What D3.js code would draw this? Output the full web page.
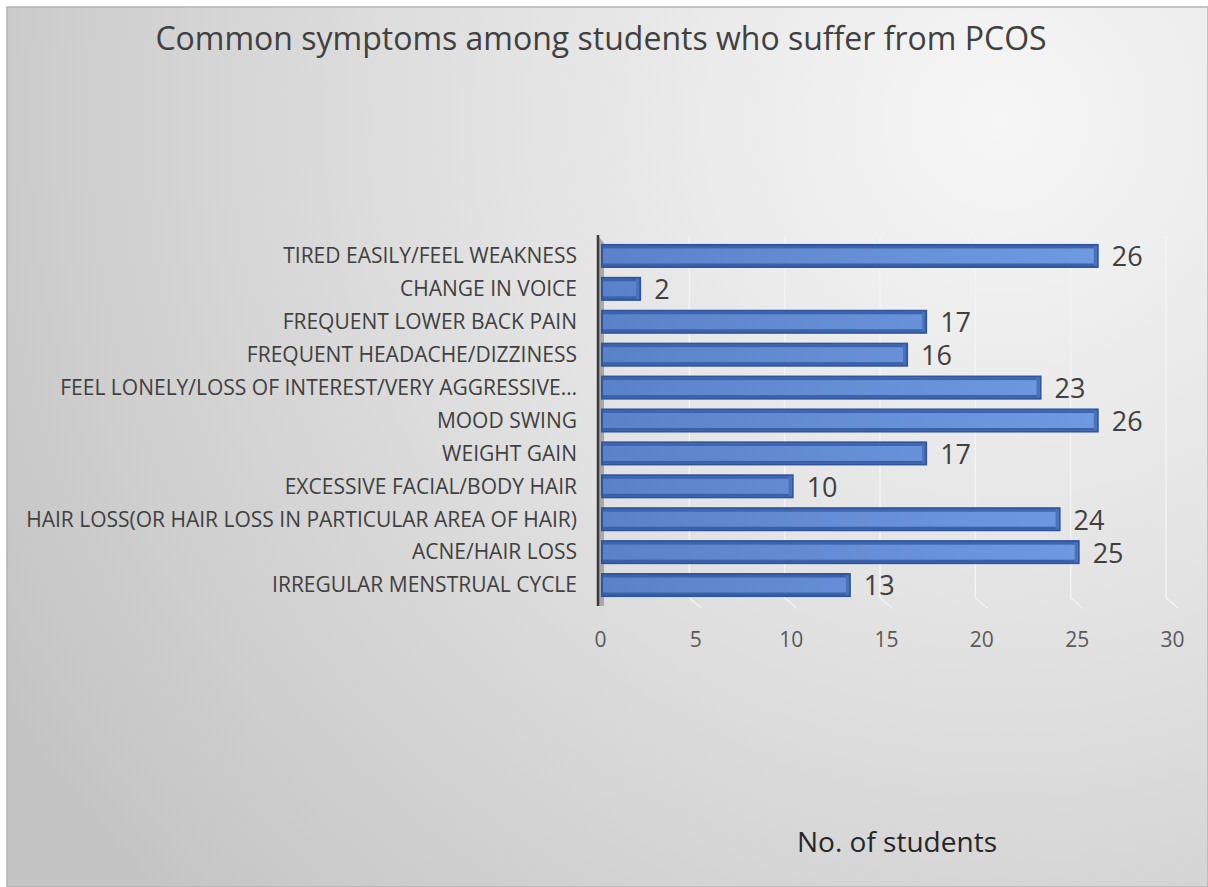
<!DOCTYPE html>
<html><head><meta charset="utf-8">
<script src="https://cdn.jsdelivr.net/npm/d3@7"></script>
<style>html,body{margin:0;padding:0;background:#fff;}svg{display:block;}</style>
</head><body>
<svg id="chart" width="1208" height="887"></svg>
<script>
const categories = [
  "TIRED EASILY/FEEL WEAKNESS",
  "CHANGE IN VOICE",
  "FREQUENT LOWER BACK PAIN",
  "FREQUENT HEADACHE/DIZZINESS",
  "FEEL LONELY/LOSS OF INTEREST/VERY AGGRESSIVE…",
  "MOOD SWING",
  "WEIGHT GAIN",
  "EXCESSIVE FACIAL/BODY HAIR",
  "HAIR LOSS(OR HAIR LOSS IN PARTICULAR AREA OF HAIR)",
  "ACNE/HAIR LOSS",
  "IRREGULAR MENSTRUAL CYCLE"
];
const values = [26, 2, 17, 16, 23, 26, 17, 10, 24, 25, 13];
const xTicks = [0, 5, 10, 15, 20, 25, 30];
const titleText = "Common symptoms among students who suffer from PCOS";
const axisTitle = "No. of students";

const svg = d3.select("#chart");
const W = 1208, H = 887;
const defs = svg.append("defs");

const bg = defs.append("radialGradient").attr("id","bg")
  .attr("gradientUnits","userSpaceOnUse").attr("cx",1000).attr("cy",120).attr("r",1150);
bg.append("stop").attr("offset","0").attr("stop-color","#f6f6f6");
bg.append("stop").attr("offset","0.45").attr("stop-color","#e2e2e2");
bg.append("stop").attr("offset","1").attr("stop-color","#c4c4c4");

const bar = defs.append("linearGradient").attr("id","barg")
  .attr("gradientUnits","userSpaceOnUse").attr("x1",600).attr("y1",0).attr("x2",1100).attr("y2",0);
bar.append("stop").attr("offset","0").attr("stop-color","#5a82c8");
bar.append("stop").attr("offset","1").attr("stop-color","#6f9ae2");

svg.append("rect").attr("x",7).attr("y",7).attr("width",W-7).attr("height",H-7)
  .attr("fill","url(#bg)").attr("stroke","#b4b4b4").attr("stroke-width",1.5);

const x = d3.scaleLinear().domain([0,30]).range([602,1174]);
const y = d3.scaleBand().domain(categories).range([239.5,601.5]).paddingInner(0.33).paddingOuter(0.165);

const depth = 8;
// gridlines with perspective
const grid = svg.append("g");
xTicks.filter(t=>t>0).forEach(t=>{
  const gx = x(t) - depth;
  grid.append("path")
    .attr("d", `M${gx},236 L${gx},598 L${gx+depth+4},608`)
    .attr("fill","none").attr("stroke","#f4f4f4").attr("stroke-width",1.5);
});

// side wall
svg.append("path").attr("d",`M598,236 L604,243 L604,606 L598,606 Z`).attr("fill","#a8a8a8");
// axis line
svg.append("line").attr("x1",598).attr("x2",598).attr("y1",235).attr("y2",606)
  .attr("stroke","#3a3a3a").attr("stroke-width",2.5);

// bars
const bh = y.bandwidth();
const bars = svg.append("g").selectAll("g").data(categories).join("g");
bars.append("rect")
  .attr("x", x(0)).attr("y", d=>y(d))
  .attr("width", (d,i)=>x(values[i])-x(0)).attr("height", bh)
  .attr("fill","url(#barg)").attr("stroke","#2f55a0").attr("stroke-width",2);
bars.append("rect")
  .attr("x", x(0)+1).attr("y", d=>y(d)+1)
  .attr("width", (d,i)=>x(values[i])-x(0)-2).attr("height", 2.5)
  .attr("fill","#3d63ac");
bars.append("rect")
  .attr("x", x(0)+1).attr("y", d=>y(d)+bh-3.5)
  .attr("width", (d,i)=>x(values[i])-x(0)-2).attr("height", 2.5)
  .attr("fill","#3a60a8");
bars.append("rect")
  .attr("x", (d,i)=>x(values[i])-4).attr("y", d=>y(d)+1)
  .attr("width", 3).attr("height", bh-2)
  .attr("fill","#4a72bb");

// value labels
bars.append("text")
  .attr("x",(d,i)=>x(values[i])+14).attr("y", d=>y(d)+bh/2+1)
  .attr("dy","0.35em")
  .attr("font-family","'Open Sans', sans-serif").attr("font-size",27)
  .attr("fill","#404040")
  .text((d,i)=>values[i]);

// category labels
svg.append("g").selectAll("text").data(categories).join("text")
  .attr("x",577).attr("y", d=>y(d)+bh/2).attr("dy","0.35em")
  .attr("text-anchor","end")
  .attr("font-family","'Open Sans', sans-serif").attr("font-size",21)
  .attr("fill","#404040")
  .text(d=>d);

// x axis ticks
const xAxis = d3.axisBottom(x).tickValues(xTicks).tickSize(0).tickPadding(0);
const ax = svg.append("g").attr("transform","translate(-2,640)").call(xAxis);
ax.select(".domain").remove();
ax.selectAll("text").attr("font-family","'Open Sans', sans-serif").attr("font-size",21)
  .attr("fill","#595959").attr("dy","0.32em");

// title
svg.append("text").attr("x",601).attr("y",50)
  .attr("text-anchor","middle")
  .attr("font-family","'Open Sans', sans-serif").attr("font-size",32)
  .attr("fill","#404040").text(titleText);

svg.append("text").attr("x",897).attr("y",852)
  .attr("text-anchor","middle")
  .attr("font-family","'Open Sans', sans-serif").attr("font-size",28)
  .attr("fill","#262626").text(axisTitle);
</script>
</body></html>
